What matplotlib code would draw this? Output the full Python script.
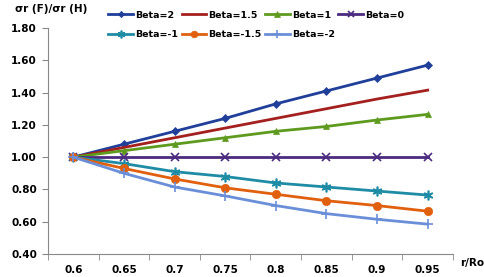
import matplotlib
matplotlib.use("Agg")
import matplotlib.pyplot as plt
import numpy as np

r_ro = ["0.6", "0.65", "0.7", "0.75", "0.8", "0.85", "0.9", "0.95"]

beta_2 = [1.00, 1.08, 1.16, 1.24, 1.33, 1.41, 1.49, 1.57]
beta_1_5 = [1.00, 1.06, 1.12, 1.18, 1.24, 1.30, 1.36, 1.415]
beta_1 = [1.00, 1.04, 1.08, 1.12, 1.16, 1.19, 1.23, 1.265]
beta_0 = [1.00, 1.00, 1.00, 1.00, 1.00, 1.00, 1.00, 1.00]
beta_m1 = [1.00, 0.96, 0.91, 0.88, 0.84, 0.815, 0.79, 0.765]
beta_m1_5 = [1.00, 0.93, 0.865, 0.81, 0.77, 0.73, 0.70, 0.665]
beta_m2 = [1.00, 0.90, 0.815, 0.76, 0.70, 0.65, 0.615, 0.585]

series = [
    ("Beta=2", beta_2, "#1F3F9A", "D", 4),
    ("Beta=1.5", beta_1_5, "#A3201E", None, 0),
    ("Beta=1", beta_1, "#5E9A1E", "^", 5),
    ("Beta=0", beta_0, "#4B2A7F", "x", 6),
    ("Beta=-1", beta_m1, "#1F8CA6", (6, 2, 0), 7),
    ("Beta=-1.5", beta_m1_5, "#E0600E", "o", 6),
    ("Beta=-2", beta_m2, "#6A8FD8", "+", 7),
]

fig = plt.figure(figsize=(4.85, 2.77), dpi=100)
ax = fig.add_axes([48 / 485, 1 - 254 / 277, 405 / 485, 226 / 277])

x = np.arange(len(r_ro))
handles = []
for label, vals, color, marker, ms in series:
    thin = marker in ("x", "+") or isinstance(marker, tuple)
    h, = ax.plot(x, vals, color=color, lw=2, marker=marker, markersize=ms,
                 markeredgewidth=1.2 if thin else 0.5, label=label)
    handles.append(h)

ax.set_xlim(-0.5, len(r_ro) - 0.5)
ax.set_ylim(0.4, 1.8)
yt = np.arange(0.4, 1.81, 0.2)
ax.set_yticks(yt)
ax.set_yticklabels(["%.2f" % v for v in yt])
ax.set_xticks(x)
ax.set_xticklabels(r_ro)
ax.set_xticks(np.arange(-0.5, len(r_ro), 1.0), minor=True)
ax.tick_params(axis="x", which="major", length=0, pad=8)
ax.tick_params(axis="x", which="minor", length=4, color="#888888")
ax.tick_params(axis="y", length=4, color="#888888", pad=4)
for lab in ax.get_xticklabels() + ax.get_yticklabels():
    lab.set_fontsize(7.5)
    lab.set_fontweight("bold")

for s in ["top", "right"]:
    ax.spines[s].set_visible(False)
for s in ["left", "bottom"]:
    ax.spines[s].set_color("#888888")

fig.text(15 / 485, 1 - 9 / 277, "σr (F)/σr (H)", fontsize=7.5, fontweight="bold",
         va="center", ha="left")
fig.text(460 / 485, 1 - 263 / 277, "r/Ro", fontsize=7.5, fontweight="bold",
         va="center", ha="left")

# legend reads row by row, like the original
order = [0, 4, 1, 5, 2, 6, 3]
fig.legend([handles[i] for i in order], [series[i][0] for i in order],
           loc="upper left", bbox_to_anchor=(100 / 485, 1 - 2 / 277), ncol=4,
           frameon=False, handlelength=2.6, columnspacing=0.4,
           handletextpad=0.2, labelspacing=1.15, markerscale=0.8,
           prop={"weight": "bold", "size": 6.8})

fig.savefig("out.png", dpi=100)
